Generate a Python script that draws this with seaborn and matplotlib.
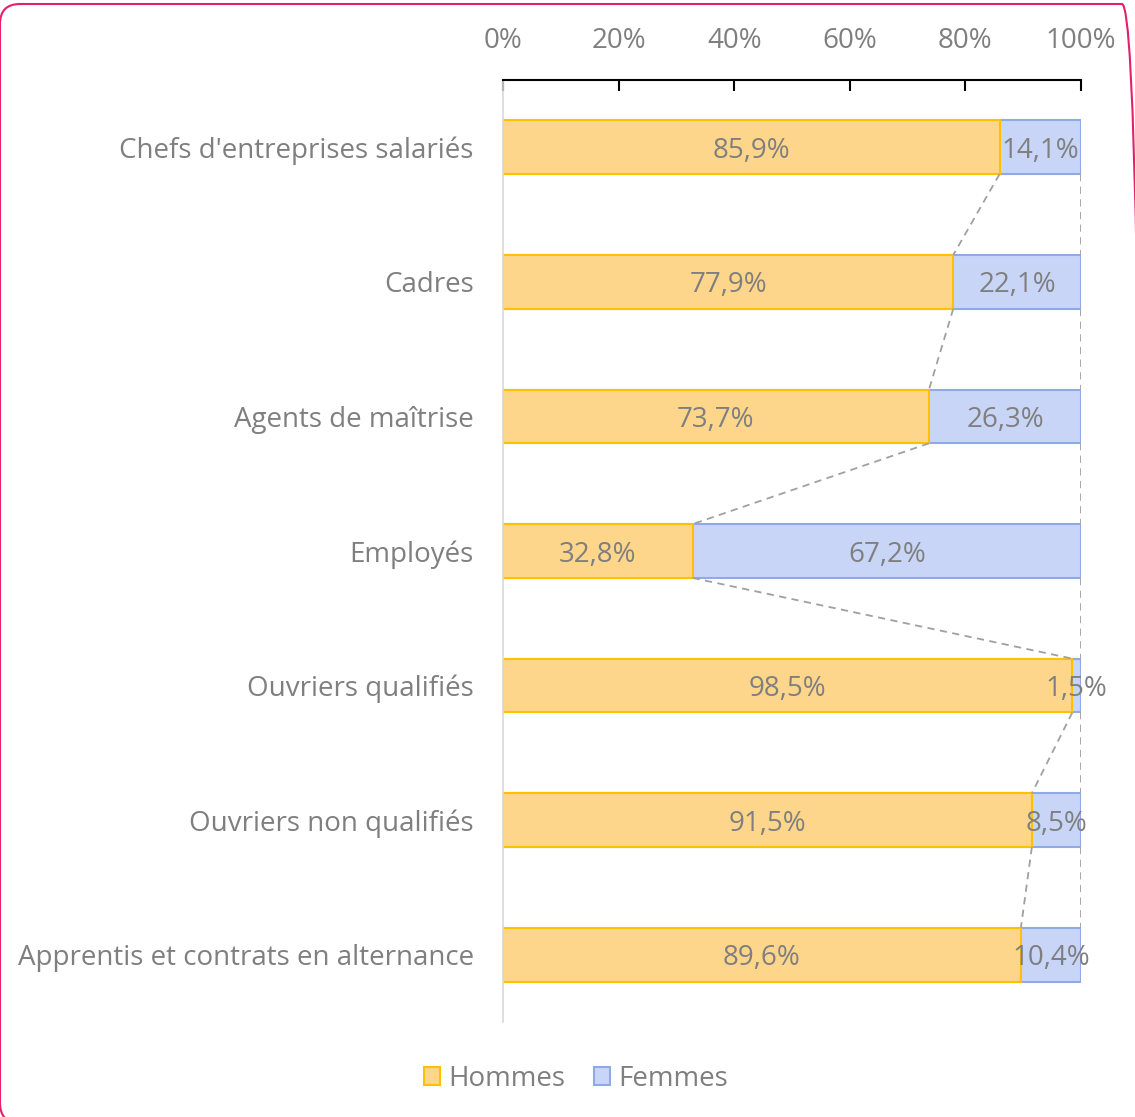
import matplotlib
matplotlib.use("Agg")
import matplotlib.pyplot as plt
import seaborn as sns
import pandas as pd
from matplotlib.patches import FancyBboxPatch, Patch

categories = ["Chefs d'entreprises salariés", "Cadres", "Agents de maîtrise", "Employés",
              "Ouvriers qualifiés", "Ouvriers non qualifiés", "Apprentis et contrats en alternance"]
hommes = [85.9, 77.9, 73.7, 32.8, 98.5, 91.5, 89.6]
femmes = [14.1, 22.1, 26.3, 67.2, 1.5, 8.5, 10.4]
xticks = [0, 20, 40, 60, 80, 100]
xticklabels = ["0%", "20%", "40%", "60%", "80%", "100%"]
series = ["Hommes", "Femmes"]

H_FILL, H_EDGE = "#FED68B", "#FFC000"
F_FILL, F_EDGE = "#C8D5F7", "#8FAAE6"
TXT = "#7F7F7F"
FONT = ["Open Sans", "DejaVu Sans"]
FS = 20

sns.set_style("white")
plt.rcParams["font.family"] = FONT

df = pd.DataFrame({"cat": categories, "Hommes": hommes, "Femmes": femmes})
df["total"] = df["Hommes"] + df["Femmes"]

W, H = 1135, 1117
fig = plt.figure(figsize=(W / 100, H / 100), dpi=100)
ax = fig.add_axes([503 / W, 1 - 1022 / H, (1081 - 503) / W, (1022 - 80) / H])

sns.barplot(data=df, y="cat", x="total", orient="h", color=F_FILL, width=0.4,
            edgecolor=F_EDGE, linewidth=1.5, saturation=1, ax=ax)
n_f = len(ax.patches)
sns.barplot(data=df, y="cat", x="Hommes", orient="h", color=H_FILL, width=0.4,
            edgecolor=H_EDGE, linewidth=1.5, saturation=1, ax=ax)
fpatches = ax.patches[:n_f]
hpatches = ax.patches[n_f:]

# labels
for i, (hp, fp) in enumerate(zip(hpatches, fpatches)):
    yc = hp.get_y() + hp.get_height() / 2
    ax.text(hommes[i] / 2, yc, f"{hommes[i]:.1f}%".replace(".", ","), ha="center",
            va="center_baseline", color=TXT, fontsize=FS, zorder=5)
    ax.text(hommes[i] + femmes[i] / 2, yc, f"{femmes[i]:.1f}%".replace(".", ","), ha="center",
            va="center_baseline", color=TXT, fontsize=FS, zorder=5, clip_on=False)

# series lines
for i in range(len(categories) - 1):
    p0, p1 = hpatches[i], hpatches[i + 1]
    y0 = p0.get_y() + p0.get_height()
    y1 = p1.get_y()
    ax.plot([hommes[i], hommes[i + 1]], [y0, y1], ls=(0, (4, 3)), color="#A0A0A0", lw=1.3, zorder=1)
    ax.plot([hommes[i] + femmes[i], hommes[i + 1] + femmes[i + 1]], [y0, y1], ls=(0, (4, 3)),
            color="#A0A0A0", lw=1.3, zorder=1)

ax.set_xlim(0, 100)
ax.set_ylim(len(categories) - 0.5, -0.5)
ax.set_xticks(xticks)
ax.set_xticklabels(xticklabels)
ax.xaxis.tick_top()
ax.set_xlabel("")
ax.set_ylabel("")
ax.tick_params(axis="x", direction="in", length=8, width=1.5, colors="black", labelcolor=TXT,
               labelsize=FS, pad=18, top=True, bottom=False)
ax.tick_params(axis="y", length=0, labelcolor=TXT, labelsize=FS, pad=21)
for s in ["bottom", "right"]:
    ax.spines[s].set_visible(False)
ax.spines["top"].set_color("black")
ax.spines["top"].set_linewidth(1.5)
ax.spines["left"].set_color("#D9D9D9")
ax.spines["left"].set_linewidth(1.2)
ax.grid(False)

handles = [Patch(facecolor=H_FILL, edgecolor=H_EDGE, lw=1.5, label=series[0]),
           Patch(facecolor=F_FILL, edgecolor=F_EDGE, lw=1.5, label=series[1])]
fig.legend(handles=handles, loc="center", bbox_to_anchor=(576 / W, 1 - 1079 / H), ncol=2,
           frameon=False, fontsize=FS, labelcolor=TXT, handlelength=0.6, handleheight=0.6,
           handletextpad=0.3, columnspacing=1.0)

border = FancyBboxPatch((0.0, -0.06), 11.42, 11.19,
                        boxstyle="round,pad=0,rounding_size=0.2", transform=fig.dpi_scale_trans,
                        fill=False, edgecolor="#E2206E", lw=1.5, clip_on=False)
fig.patches.append(border)

fig.savefig("out.png", dpi=100)
